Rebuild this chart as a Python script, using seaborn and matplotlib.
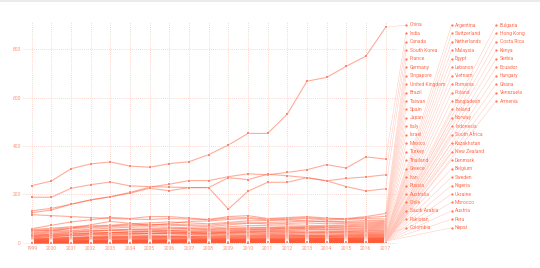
import numpy as np
import pandas as pd
import matplotlib
matplotlib.use("Agg")
import matplotlib.pyplot as plt
import seaborn as sns

years = list(range(1999, 2018))

top_countries = ["China", "India", "Canada", "South Korea"]
top_values = [
    [236, 255, 306, 326, 334, 317, 312, 327, 335, 364, 404, 452, 452, 532, 668, 684, 730, 772, 891],
    [132, 142, 159, 177, 190, 208, 230, 242, 257, 257, 273, 285, 281, 291, 302, 323, 309, 355, 346],
    [188, 188, 225, 240, 251, 235, 232, 230, 228, 228, 269, 261, 283, 277, 269, 256, 266, 272, 281],
    [124, 135, 159, 177, 190, 205, 225, 215, 228, 228, 139, 213, 250, 250, 269, 256, 232, 214, 223],
]

mid_countries = ["France", "Germany", "Singapore", "United Kingdom", "Brazil", "Taiwan", "Spain",
                 "Japan", "Italy", "Israel", "Mexico", "Turkey", "Thailand", "Greece", "Iran",
                 "Russia", "Australia", "Chile", "Saudi Arabia", "Pakistan", "Colombia"]
mid_values = [
    [116, 112, 108, 104, 100, 98, 96, 100, 98, 95, 102, 104, 98, 100, 104, 98, 100, 108, 121],
    [58, 72, 86, 95, 105, 100, 108, 108, 102, 96, 108, 112, 100, 104, 108, 102, 98, 104, 109],
    [40, 48, 60, 74, 88, 80, 72, 80, 88, 90, 96, 100, 94, 96, 100, 94, 96, 100, 98],
    [55, 60, 66, 70, 72, 78, 82, 86, 82, 78, 84, 90, 92, 94, 90, 86, 88, 92, 92],
    [50, 56, 62, 66, 70, 74, 76, 72, 70, 66, 74, 80, 84, 86, 90, 88, 84, 86, 88],
    [45, 52, 58, 62, 66, 70, 72, 76, 74, 72, 80, 82, 78, 80, 82, 78, 80, 82, 84],
    [38, 44, 50, 56, 60, 64, 66, 64, 62, 60, 66, 70, 72, 74, 72, 70, 74, 78, 80],
    [52, 50, 48, 50, 52, 54, 52, 50, 48, 46, 50, 54, 56, 60, 64, 68, 70, 74, 76],
    [30, 36, 42, 46, 50, 52, 54, 56, 58, 56, 60, 62, 64, 66, 64, 62, 66, 70, 72],
    [35, 40, 44, 48, 52, 56, 58, 60, 58, 54, 58, 60, 62, 64, 66, 64, 64, 66, 68],
    [25, 30, 34, 38, 42, 46, 48, 50, 52, 50, 54, 56, 58, 60, 58, 56, 58, 62, 64],
    [20, 24, 30, 36, 40, 44, 46, 48, 46, 44, 48, 52, 54, 56, 58, 56, 56, 58, 60],
    [28, 32, 36, 40, 42, 44, 46, 44, 42, 40, 44, 48, 50, 52, 54, 52, 52, 54, 56],
    [32, 34, 38, 40, 42, 40, 38, 40, 42, 40, 44, 46, 48, 50, 48, 46, 48, 50, 52],
    [15, 18, 22, 26, 30, 34, 36, 38, 40, 38, 42, 44, 46, 46, 44, 44, 46, 48, 49],
    [22, 26, 28, 32, 36, 38, 40, 42, 40, 38, 40, 42, 44, 44, 42, 42, 44, 44, 46],
    [26, 28, 30, 32, 34, 36, 38, 38, 36, 34, 38, 40, 40, 42, 40, 40, 42, 42, 43],
    [12, 14, 18, 22, 26, 28, 30, 32, 34, 32, 34, 36, 38, 38, 36, 36, 38, 38, 40],
    [10, 12, 14, 18, 20, 22, 24, 26, 28, 28, 30, 32, 34, 34, 32, 32, 34, 36, 37],
    [18, 20, 22, 24, 26, 26, 28, 28, 26, 26, 28, 30, 32, 32, 30, 30, 32, 34, 35],
    [14, 16, 18, 20, 22, 24, 24, 26, 26, 24, 26, 28, 30, 30, 28, 28, 30, 32, 33],
]

low_countries = ["Argentina", "Switzerland", "Netherlands", "Malaysia", "Egypt", "Lebanon", "Vietnam",
                 "Romania", "Poland", "Bangladesh", "Ireland", "Norway", "Indonesia", "South Africa",
                 "Kazakhstan", "New Zealand", "Denmark", "Belgium", "Sweden", "Nigeria", "Ukraine",
                 "Morocco", "Austria", "Peru", "Nepal"]
low_values = [
    [16, 18, 20, 22, 22, 24, 24, 24, 22, 22, 24, 26, 28, 28, 28, 26, 28, 30, 31],
    [12, 14, 16, 18, 20, 20, 22, 22, 22, 20, 22, 24, 26, 26, 26, 26, 26, 28, 29],
    [11, 12, 14, 16, 18, 18, 20, 20, 20, 18, 20, 22, 24, 24, 24, 24, 24, 26, 27],
    [8, 10, 12, 14, 16, 16, 18, 18, 18, 16, 18, 20, 22, 22, 22, 22, 22, 24, 25],
    [9, 10, 12, 12, 14, 14, 16, 16, 16, 16, 18, 18, 20, 20, 20, 20, 20, 22, 23],
    [7, 8, 10, 10, 12, 12, 14, 14, 14, 14, 16, 16, 18, 18, 18, 18, 18, 20, 21],
    [2, 3, 4, 5, 6, 7, 8, 9, 10, 10, 12, 14, 15, 16, 17, 18, 18, 19, 20],
    [6, 7, 8, 9, 10, 11, 12, 12, 13, 13, 14, 15, 16, 16, 17, 17, 17, 18, 19],
    [5, 6, 7, 8, 9, 10, 11, 11, 12, 12, 13, 14, 15, 15, 16, 16, 16, 17, 18],
    [4, 5, 6, 7, 8, 9, 10, 10, 11, 11, 12, 13, 14, 14, 15, 15, 15, 16, 17],
    [6, 7, 7, 8, 8, 9, 9, 10, 10, 10, 11, 12, 13, 13, 14, 14, 14, 15, 16],
    [5, 6, 6, 7, 7, 8, 8, 9, 9, 9, 10, 11, 12, 12, 13, 13, 13, 14, 15],
    [3, 4, 5, 6, 6, 7, 7, 8, 8, 8, 9, 10, 11, 11, 12, 12, 12, 13, 14],
    [4, 4, 5, 5, 6, 6, 7, 7, 8, 8, 9, 9, 10, 10, 11, 11, 11, 12, 13],
    [1, 1, 2, 2, 3, 3, 4, 4, 5, 5, 6, 7, 8, 8, 9, 10, 10, 11, 12],
    [3, 3, 4, 4, 5, 5, 6, 6, 7, 7, 8, 8, 9, 9, 10, 10, 10, 11, 11],
    [3, 3, 3, 4, 4, 5, 5, 5, 6, 6, 7, 7, 8, 8, 9, 9, 9, 10, 10],
    [2, 3, 3, 3, 4, 4, 5, 5, 5, 6, 6, 7, 7, 8, 8, 8, 9, 9, 9.5],
    [2, 2, 3, 3, 3, 4, 4, 4, 5, 5, 6, 6, 7, 7, 7, 8, 8, 8, 9],
    [1, 1, 2, 2, 2, 3, 3, 3, 4, 4, 5, 5, 6, 6, 7, 7, 7, 8, 8.5],
    [1, 1, 1, 2, 2, 2, 3, 3, 3, 4, 4, 5, 5, 6, 6, 7, 7, 7, 8],
    [1, 1, 1, 1, 2, 2, 2, 3, 3, 3, 4, 4, 5, 5, 6, 6, 6, 7, 7.5],
    [2, 2, 2, 2, 3, 3, 3, 3, 4, 4, 4, 5, 5, 5, 6, 6, 6, 7, 7],
    [1, 1, 1, 1, 1, 2, 2, 2, 2, 3, 3, 3, 4, 4, 5, 5, 5, 6, 6.5],
    [0, 0, 0, 1, 1, 1, 1, 2, 2, 2, 3, 3, 3, 4, 4, 5, 5, 5, 6],
]

tail_countries = ["Bulgaria", "Hong Kong", "Costa Rica", "Kenya", "Serbia", "Ecuador", "Hungary",
                  "Ghana", "Venezuela", "Armenia"]
tail_values = [
    [1, 1, 1, 1, 1, 1, 2, 2, 2, 2, 2, 3, 3, 3, 4, 4, 4, 5, 5.5],
    [1, 1, 1, 1, 1, 1, 1, 2, 2, 2, 2, 2, 3, 3, 3, 4, 4, 4, 5],
    [0, 0, 0, 0, 1, 1, 1, 1, 1, 2, 2, 2, 2, 3, 3, 3, 3, 4, 4.5],
    [0, 0, 0, 0, 0, 1, 1, 1, 1, 1, 2, 2, 2, 2, 3, 3, 3, 3, 4],
    [0, 0, 0, 0, 0, 0, 1, 1, 1, 1, 1, 2, 2, 2, 2, 3, 3, 3, 3.5],
    [0, 0, 0, 0, 0, 0, 0, 1, 1, 1, 1, 1, 2, 2, 2, 2, 2, 3, 3],
    [0, 0, 0, 0, 0, 0, 0, 0, 1, 1, 1, 1, 1, 2, 2, 2, 2, 2, 2.5],
    [0, 0, 0, 0, 0, 0, 0, 0, 0, 1, 1, 1, 1, 1, 1, 2, 2, 2, 2],
    [0, 0, 0, 0, 0, 0, 0, 0, 0, 0, 1, 1, 1, 1, 1, 1, 1, 1, 1.5],
    [0, 0, 0, 0, 0, 0, 0, 0, 0, 0, 0, 0, 1, 1, 1, 1, 1, 1, 1],
]

y_ticks = [0, 200, 400, 600, 800]

countries = top_countries + mid_countries + low_countries + tail_countries
series = top_values + mid_values + low_values + tail_values

rows = []
for c, vals in zip(countries, series):
    for y, v in zip(years, vals):
        rows.append({"country": c, "year": y, "value": v})
df = pd.DataFrame(rows)

W, H = 540, 268
sns.set_style("white")
plt.rcParams["font.family"] = ["Roboto", "DejaVu Sans"]

LINE = "#ff5a38"
MARK = "#ff5030"
TEXT = "#ff6b4d"
TICK = "#f8957f"
GRID = "#f9c9be"

fig = plt.figure(figsize=(W / 100, H / 100), dpi=100)
ax = fig.add_axes([23 / W, 1 - 244 / H, (397 - 23) / W, (244 - 22) / H])

pal = {c: LINE for c in countries}
sns.lineplot(data=df, x="year", y="value", hue="country", palette=pal, legend=False,
             lw=0.8, alpha=0.5, ax=ax, sort=False, estimator=None)
sns.scatterplot(data=df, x="year", y="value", color=MARK, marker="s", s=3.5,
                edgecolor="white", linewidth=0.25, ax=ax, legend=False, zorder=3)

ax.set_xlim(1998.557, 2017.58)
ax.set_ylim(-5.4, 913)
ax.set_xticks(years)
ax.set_xticklabels([str(y) for y in years])
ax.set_yticks(y_ticks)
ax.set_yticklabels([str(t) for t in y_ticks])
ax.tick_params(axis="both", length=0, labelsize=3.6, labelcolor=TICK, pad=1.5)
ax.set_xlabel("")
ax.set_ylabel("")
for s in ax.spines.values():
    s.set_visible(False)
ax.grid(True, color=GRID, lw=0.6, linestyle=(0, (1, 1.5)))
ax.set_axisbelow(True)

col_x = [406, 451.5, 496]
for i, (c, vals) in enumerate(zip(countries, series)):
    if i < 25:
        col, row = 0, i
    elif i < 50:
        col, row = 1, i - 25
    else:
        col, row = 2, i - 50
    px = col_x[col]
    py = 25 + row * 8.45
    fx, fy = px / W, 1 - py / H
    ax.annotate("", xy=(2017, vals[-1]), xycoords="data", xytext=(fx, fy),
                textcoords="figure fraction",
                arrowprops=dict(arrowstyle="-", color="#ffbfb1", lw=0.3,
                                shrinkA=0, shrinkB=0),
                annotation_clip=False)
    fig.add_artist(plt.Line2D([fx], [fy], marker="o", ms=0.6, color=TEXT,
                              transform=fig.transFigure))
    fig.text((px + 3.5) / W, fy, c, fontsize=3.6, color=TEXT, va="center", ha="left")

fig.add_artist(plt.Line2D([0, 1], [0.998, 0.998], color="#e8e8e8", lw=1.2,
                          transform=fig.transFigure))

fig.savefig("out.png", dpi=100, facecolor="white")
